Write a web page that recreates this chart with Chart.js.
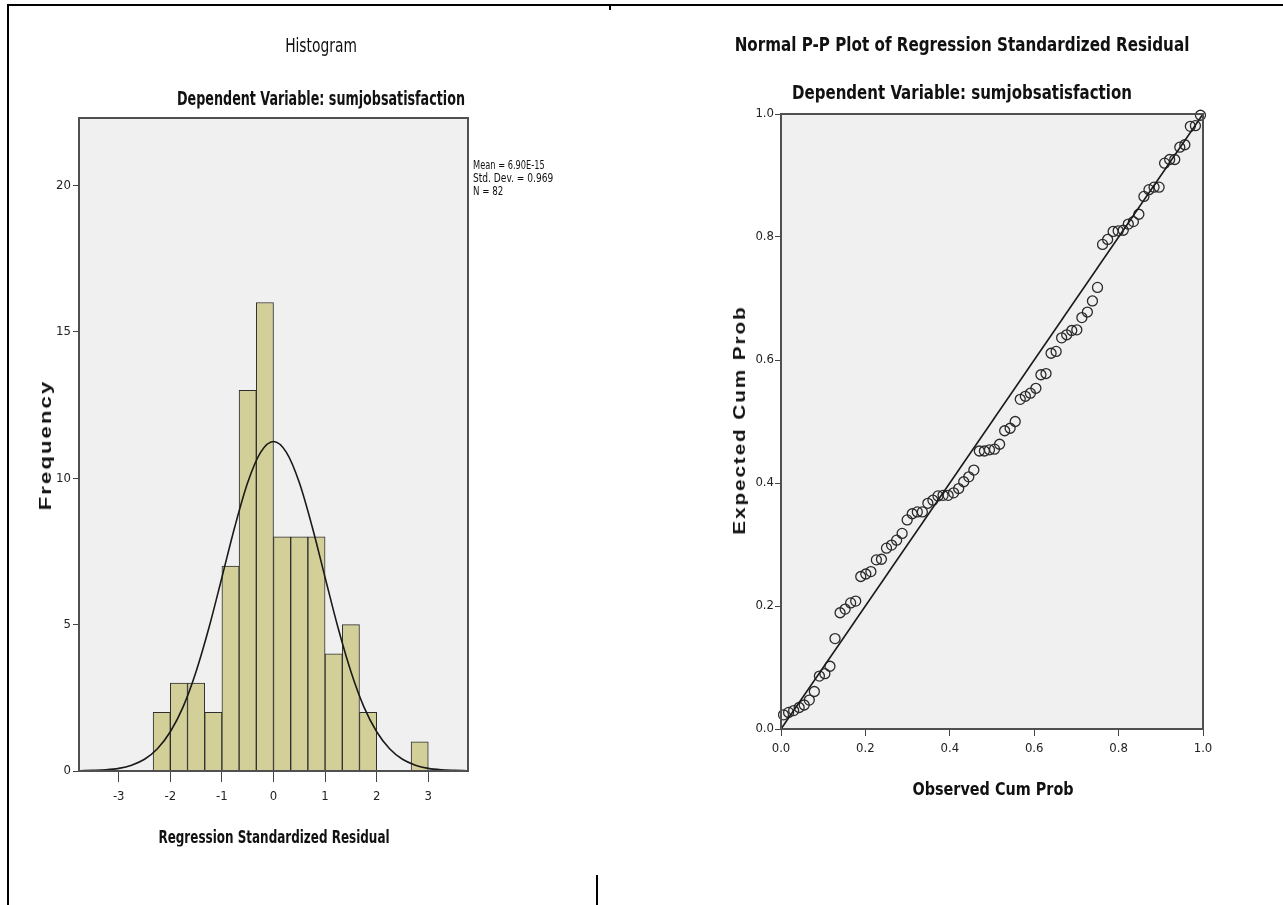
<!DOCTYPE html>
<html>
<head>
<meta charset="utf-8">
<script src="https://cdn.jsdelivr.net/npm/chart.js@4.4.1/dist/chart.umd.min.js"></script>
<style>
  html, body { margin: 0; padding: 0; background: #fff; }
  body { width: 1283px; height: 905px; position: relative; overflow: hidden;
         font-family: "Liberation Sans Narrow", "DejaVu Sans Condensed", sans-serif; color: #111; }
  .rule { position: absolute; background: #000; }
  .box  { position: absolute; top: 0; }
  .txt  { position: absolute; white-space: nowrap; line-height: 1; }
  .title { font-size: 19px; }
  .sub   { font-size: 19px; font-weight: bold; }
  .axt   { font-size: 17px; font-weight: bold; }
  .axw   { font-family: "Liberation Sans", "DejaVu Sans", sans-serif; font-size: 16px; font-weight: bold; letter-spacing: 1.5px; }
  .stat  { font-size: 12.5px; transform-origin: 0 50%; }
</style>
</head>
<body>

<!-- bordes de la tabla -->
<div class="rule" style="left:7px;top:4px;width:1276px;height:2px"></div>
<div class="rule" style="left:7px;top:4px;width:2px;height:901px"></div>
<div class="rule" style="left:609px;top:4px;width:2px;height:6px"></div>
<div class="rule" style="left:596px;top:875px;width:2px;height:30px"></div>

<div class="box" style="left:0;width:620px;height:905px"><canvas id="hist" width="620" height="905"></canvas></div>
<div class="box" style="left:620px;width:663px;height:905px"><canvas id="pp" width="663" height="905"></canvas></div>

<!-- textos -->
<div class="txt title" data-c="321,45"  data-w="72">Histogram</div>
<div class="txt sub"   data-c="321,98"  data-w="288">Dependent Variable: sumjobsatisfaction</div>
<div class="txt axt"   data-c="274,837" data-w="231">Regression Standardized Residual</div>
<div class="txt axw"   data-c="46,445"  data-w="130" data-r="-90">Frequency</div>
<div class="txt stat"  data-l="473,165" data-w="72">Mean = 6.90E-15</div>
<div class="txt stat"  data-l="473,178" data-w="80">Std. Dev. = 0.969</div>
<div class="txt stat"  data-l="473,191" data-w="30">N = 82</div>

<div class="txt sub"   data-c="962,44"  data-w="455">Normal P-P Plot of Regression Standardized Residual</div>
<div class="txt sub"   data-c="962,92"  data-w="340">Dependent Variable: sumjobsatisfaction</div>
<div class="txt axt"   data-c="993,789" data-w="161">Observed Cum Prob</div>
<div class="txt axw"   data-c="740,420" data-w="230" data-r="-90">Expected Cum Prob</div>

<script>
/* ── Histograma: residuos estandarizados ───────────── */
const binCenters  = [-2.1667, -1.8333, -1.5, -1.1667, -0.8333, -0.5, -0.1667,
                     0.1667, 0.5, 0.8333, 1.1667, 1.5, 1.8333, 2.8333];
const frequencies = [2, 3, 3, 2, 7, 13, 16, 8, 8, 8, 4, 5, 2, 1];

// curva normal (cada 0.25)
const curveX = [-3.75, -3.5, -3.25, -3, -2.75, -2.5, -2.25, -2, -1.75, -1.5, -1.25, -1, -0.75, -0.5, -0.25,
                0, 0.25, 0.5, 0.75, 1, 1.25, 1.5, 1.75, 2, 2.25, 2.5, 2.75, 3, 3.25, 3.5, 3.75];
const curveY = [0.01, 0.02, 0.04, 0.09, 0.20, 0.40, 0.76, 1.34, 2.20, 3.40, 4.90, 6.61, 8.34, 9.85, 10.88,
                11.25, 10.88, 9.85, 8.34, 6.61, 4.90, 3.40, 2.20, 1.34, 0.76, 0.40, 0.20, 0.09, 0.04, 0.02, 0.01];

const histXTicks = [-3, -2, -1, 0, 1, 2, 3];
const histYTicks = [0, 5, 10, 15, 20];

/* ── P-P plot ──────────────────────────────────────── */
const observedCum = [
  0.006, 0.018, 0.030, 0.043, 0.055, 0.067, 0.079, 0.091, 0.104, 0.116,
  0.128, 0.140, 0.152, 0.165, 0.177, 0.189, 0.201, 0.213, 0.226, 0.238,
  0.250, 0.262, 0.274, 0.287, 0.299, 0.311, 0.323, 0.335, 0.348, 0.360,
  0.372, 0.384, 0.396, 0.409, 0.421, 0.433, 0.445, 0.457, 0.470, 0.482,
  0.494, 0.506, 0.518, 0.530, 0.543, 0.555, 0.567, 0.579, 0.591, 0.604,
  0.616, 0.628, 0.640, 0.652, 0.665, 0.677, 0.689, 0.701, 0.713, 0.726,
  0.738, 0.750, 0.762, 0.774, 0.787, 0.799, 0.811, 0.823, 0.835, 0.848,
  0.860, 0.872, 0.884, 0.896, 0.909, 0.921, 0.933, 0.945, 0.957, 0.970,
  0.982, 0.994];
const expectedCum = [
  0.023, 0.027, 0.030, 0.035, 0.039, 0.047, 0.061, 0.086, 0.090, 0.102,
  0.147, 0.189, 0.195, 0.205, 0.208, 0.248, 0.252, 0.256, 0.275, 0.276,
  0.294, 0.299, 0.307, 0.318, 0.340, 0.350, 0.353, 0.353, 0.367, 0.372,
  0.379, 0.380, 0.380, 0.384, 0.391, 0.402, 0.410, 0.421, 0.452, 0.452,
  0.454, 0.455, 0.463, 0.485, 0.489, 0.500, 0.536, 0.541, 0.546, 0.554,
  0.576, 0.578, 0.611, 0.614, 0.636, 0.641, 0.648, 0.649, 0.669, 0.678,
  0.696, 0.718, 0.788, 0.796, 0.809, 0.810, 0.811, 0.821, 0.825, 0.837,
  0.866, 0.877, 0.881, 0.881, 0.920, 0.926, 0.926, 0.946, 0.950, 0.980,
  0.981, 0.998];
const diagonal = [0, 1];
const ppTicks  = [0, 0.2, 0.4, 0.6, 0.8, 1.0];

/* ── Estilo común ──────────────────────────────────── */
const NARROW = '"Liberation Sans Narrow", "DejaVu Sans Condensed", sans-serif';
const tickFont = { family: NARROW, size: 13 };

// fondo gris del área y marco
const plotFrame = {
  id: 'plotFrame',
  beforeDraw(chart) {
    const { ctx, chartArea: a } = chart;
    ctx.save();
    ctx.fillStyle = '#f0f0f0';
    ctx.fillRect(a.left, a.top, a.right - a.left, a.bottom - a.top);
    ctx.restore();
  },
  afterDatasetsDraw(chart) {
    const { ctx, chartArea: a } = chart;
    ctx.save();
    ctx.strokeStyle = '#505050';
    ctx.lineWidth = 2;
    ctx.strokeRect(a.left, a.top, a.right - a.left, a.bottom - a.top);
    ctx.restore();
  }
};

function axis(min, max, ticks, tickLen, pad, size, fmt) {
  return {
    type: 'linear', min, max, offset: false,
    afterBuildTicks: s => { s.ticks = ticks.map(v => ({ value: v })); },
    afterFit: s => { if (s.isHorizontal()) s.height = size; else s.width = size; },
    grid: { offset: false, drawOnChartArea: false, drawTicks: true, tickLength: tickLen, color: '#444', lineWidth: 1 },
    border: { display: false },
    ticks: { font: tickFont, color: '#222', padding: pad, autoSkip: false, maxRotation: 0, callback: fmt }
  };
}

const base = {
  responsive: false, animation: false, devicePixelRatio: 1,
  plugins: { legend: { display: false }, tooltip: { enabled: false } }
};

/* ── Histograma ────────────────────────────────────── */
new Chart(document.getElementById('hist'), {
  type: 'bar',
  data: {
    datasets: [
      { type: 'line', data: curveX.map((x, i) => ({ x, y: curveY[i] })),
        borderColor: '#1a1a1a', borderWidth: 1.6, pointRadius: 0,
        cubicInterpolationMode: 'monotone', fill: false },
      { type: 'bar', data: binCenters.map((x, i) => ({ x, y: frequencies[i] })),
        backgroundColor: '#d3cf98', borderColor: '#2e2e2e', borderWidth: 1,
        barPercentage: 1, categoryPercentage: 1 }
    ]
  },
  options: {
    ...base,
    layout: { padding: { top: 118, right: 152, bottom: 0, left: 0 } },
    scales: {
      x: axis(-3.77, 3.77, histXTicks, 11, 7, 134, v => String(v)),
      y: axis(0, 22.3, histYTicks, 6, 2, 79, v => String(v))
    }
  },
  plugins: [plotFrame]
});

/* ── P-P plot ──────────────────────────────────────── */
new Chart(document.getElementById('pp'), {
  type: 'scatter',
  data: {
    datasets: [
      { data: diagonal.map(v => ({ x: v, y: v })), showLine: true,
        borderColor: '#1a1a1a', borderWidth: 1.6, pointRadius: 0 },
      { data: observedCum.map((x, i) => ({ x, y: expectedCum[i] })),
        pointStyle: 'circle', pointRadius: 5, borderWidth: 1.3,
        borderColor: '#2a2a2a', backgroundColor: 'rgba(0,0,0,0)', clip: false }
    ]
  },
  options: {
    ...base,
    layout: { padding: { top: 114, right: 80, bottom: 0, left: 0 } },
    scales: {
      x: axis(0, 1, ppTicks, 7, 5, 176, v => v.toFixed(1)),
      y: axis(0, 1, ppTicks, 6, 1, 161, v => v.toFixed(1))
    }
  },
  plugins: [plotFrame]
});

/* ── Colocar textos (centro / izquierda + ancho) ───── */
document.querySelectorAll('.txt').forEach(el => {
  const k = +el.dataset.w / el.offsetWidth;
  const r = +(el.dataset.r || 0);
  if (el.dataset.c) {
    const [cx, cy] = el.dataset.c.split(',').map(Number);
    el.style.left = cx + 'px';
    el.style.top = cy + 'px';
    el.style.transform = `translate(-50%,-50%) rotate(${r}deg) scaleX(${k})`;
  } else {
    const [lx, cy] = el.dataset.l.split(',').map(Number);
    el.style.left = lx + 'px';
    el.style.top = (cy - el.offsetHeight / 2) + 'px';
    el.style.transform = `scaleX(${k})`;
  }
});
</script>
</body>
</html>
